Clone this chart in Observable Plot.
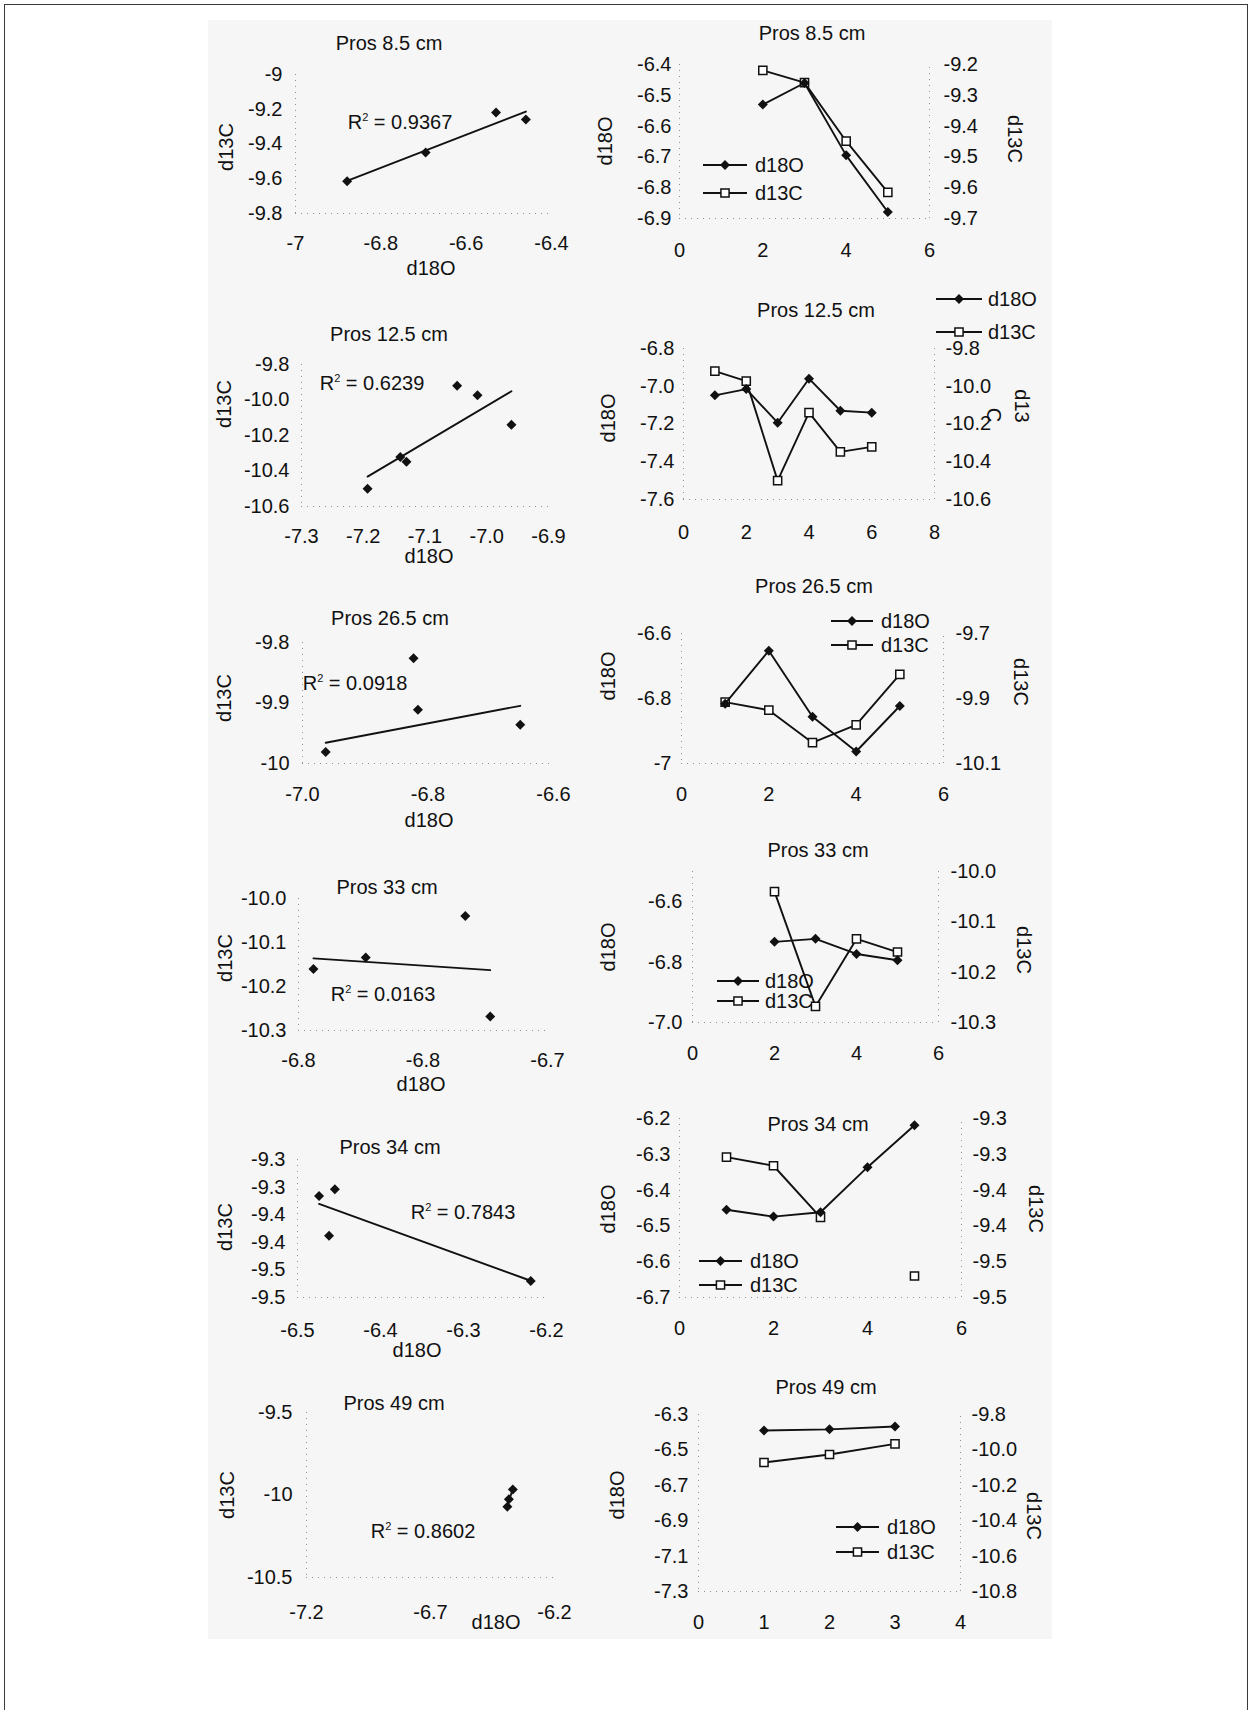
<!DOCTYPE html>
<html>
<head>
<meta charset="utf-8">
<script src="https://cdn.jsdelivr.net/npm/d3@7"></script>
<script src="https://cdn.jsdelivr.net/npm/@observablehq/plot@0.6"></script>
<style>
html, body { margin: 0; padding: 0; background: #fff; }
#page { position: relative; width: 1248px; height: 1710px; overflow: hidden;
  font-family: "Liberation Sans", Arial, Helvetica, sans-serif; color: #111; }
.frame { position: absolute; left: 4px; top: 4px; width: 1244px; height: 1720px;
  border: 1.5px solid #3a3a3a; border-bottom: none; box-sizing: border-box; }
.scan { position: absolute; left: 208px; top: 20px; width: 844px; height: 1619px; background: #f6f6f6; }
.t { position: absolute; font-size: 20px; line-height: 1; white-space: nowrap; transform: translate(-50%, -50%); }
.t.rotL { transform: translate(-50%, -50%) rotate(-90deg); }
.t.rotR { transform: translate(-50%, -50%) rotate(90deg); }
.t.left { transform: translate(0, -50%); }
.t sup { font-size: 11px; vertical-align: 0; position: relative; top: -8px; }
.panel { position: absolute; }
.panel svg { position: absolute; left: 0; top: 0; overflow: visible; max-width: none !important; }
</style>
</head>
<body>
<div id="page"><div class="frame"></div><div class="scan"></div></div>
<script>
// ---------------- DATA ----------------
const titles = ["Pros 8.5 cm", "Pros 12.5 cm", "Pros 26.5 cm", "Pros 33 cm", "Pros 34 cm", "Pros 49 cm"];
const r2Values = ["0.9367", "0.6239", "0.0918", "0.0163", "0.7843", "0.8602"];
const seriesNames = ["d18O", "d13C"];

// Pros 8.5 cm
const samples85 = [2, 3, 4, 5];
const d18O85 = [-6.530, -6.460, -6.695, -6.879];
const d13C85 = [-9.219, -9.259, -9.449, -9.615];
// Pros 12.5 cm
const samples125 = [1, 2, 3, 4, 5, 6];
const d18O125 = [-7.048, -7.015, -7.193, -6.960, -7.130, -7.140];
const d13C125 = [-9.920, -9.973, -10.500, -10.140, -10.348, -10.321];
// Pros 26.5 cm
const samples265 = [1, 2, 3, 4, 5];
const d18O265 = [-6.816, -6.653, -6.856, -6.963, -6.823];
const d13C265 = [-9.911, -9.936, -10.036, -9.981, -9.826];
// Pros 33 cm
const samples33 = [2, 3, 4, 5];
const d18O33 = [-6.733, -6.723, -6.773, -6.794];
const d13C33 = [-10.040, -10.268, -10.134, -10.160];
// Pros 34 cm
const samples34 = [1, 2, 3, 4, 5];
const d18O34 = [-6.455, -6.474, -6.462, -6.336, -6.219];
const d13C34 = [-9.304, -9.316, -9.388, null, -9.470];
// Pros 49 cm
const samples49 = [1, 2, 3];
const d18O49 = [-6.390, -6.384, -6.368];
const d13C49 = [-10.071, -10.026, -9.966];

// ---------------- TICKS (values and printed labels) ----------------
const xTicks85L = [-7, -6.8, -6.6, -6.4], xLabels85L = ["-7", "-6.8", "-6.6", "-6.4"];
const yTicks85L = [-9.8, -9.6, -9.4, -9.2, -9], yLabels85L = ["-9.8", "-9.6", "-9.4", "-9.2", "-9"];
const xTicks85R = [0, 2, 4, 6], xLabels85R = ["0", "2", "4", "6"];
const yTicks85R = [-6.9, -6.8, -6.7, -6.6, -6.5, -6.4], yLabels85R = ["-6.9", "-6.8", "-6.7", "-6.6", "-6.5", "-6.4"];
const y2Ticks85R = [-9.7, -9.6, -9.5, -9.4, -9.3, -9.2], y2Labels85R = ["-9.7", "-9.6", "-9.5", "-9.4", "-9.3", "-9.2"];

const xTicks125L = [-7.3, -7.2, -7.1, -7.0, -6.9], xLabels125L = ["-7.3", "-7.2", "-7.1", "-7.0", "-6.9"];
const yTicks125L = [-10.6, -10.4, -10.2, -10.0, -9.8], yLabels125L = ["-10.6", "-10.4", "-10.2", "-10.0", "-9.8"];
const xTicks125R = [0, 2, 4, 6, 8], xLabels125R = ["0", "2", "4", "6", "8"];
const yTicks125R = [-7.6, -7.4, -7.2, -7.0, -6.8], yLabels125R = ["-7.6", "-7.4", "-7.2", "-7.0", "-6.8"];
const y2Ticks125R = [-10.6, -10.4, -10.2, -10.0, -9.8], y2Labels125R = ["-10.6", "-10.4", "-10.2", "-10.0", "-9.8"];

const xTicks265L = [-7.0, -6.8, -6.6], xLabels265L = ["-7.0", "-6.8", "-6.6"];
const yTicks265L = [-10, -9.9, -9.8], yLabels265L = ["-10", "-9.9", "-9.8"];
const xTicks265R = [0, 2, 4, 6], xLabels265R = ["0", "2", "4", "6"];
const yTicks265R = [-7, -6.8, -6.6], yLabels265R = ["-7", "-6.8", "-6.6"];
const y2Ticks265R = [-10.1, -9.9, -9.7], y2Labels265R = ["-10.1", "-9.9", "-9.7"];

const xTicks33L = [-6.8, -6.75, -6.7], xLabels33L = ["-6.8", "-6.8", "-6.7"];
const yTicks33L = [-10.3, -10.2, -10.1, -10.0], yLabels33L = ["-10.3", "-10.2", "-10.1", "-10.0"];
const xTicks33R = [0, 2, 4, 6], xLabels33R = ["0", "2", "4", "6"];
const yTicks33R = [-7.0, -6.8, -6.6], yLabels33R = ["-7.0", "-6.8", "-6.6"];
const y2Ticks33R = [-10.3, -10.2, -10.1, -10.0], y2Labels33R = ["-10.3", "-10.2", "-10.1", "-10.0"];

const xTicks34L = [-6.5, -6.4, -6.3, -6.2], xLabels34L = ["-6.5", "-6.4", "-6.3", "-6.2"];
const yTicks34L = [-9.5, -9.45, -9.4, -9.35, -9.3, -9.25], yLabels34L = ["-9.5", "-9.5", "-9.4", "-9.4", "-9.3", "-9.3"];
const xTicks34R = [0, 2, 4, 6], xLabels34R = ["0", "2", "4", "6"];
const yTicks34R = [-6.7, -6.6, -6.5, -6.4, -6.3, -6.2], yLabels34R = ["-6.7", "-6.6", "-6.5", "-6.4", "-6.3", "-6.2"];
const y2Ticks34R = [-9.5, -9.45, -9.4, -9.35, -9.3, -9.25], y2Labels34R = ["-9.5", "-9.5", "-9.4", "-9.4", "-9.3", "-9.3"];

const xTicks49L = [-7.2, -6.7, -6.2], xLabels49L = ["-7.2", "-6.7", "-6.2"];
const yTicks49L = [-10.5, -10, -9.5], yLabels49L = ["-10.5", "-10", "-9.5"];
const xTicks49R = [0, 1, 2, 3, 4], xLabels49R = ["0", "1", "2", "3", "4"];
const yTicks49R = [-7.3, -7.1, -6.9, -6.7, -6.5, -6.3], yLabels49R = ["-7.3", "-7.1", "-6.9", "-6.7", "-6.5", "-6.3"];
const y2Ticks49R = [-10.8, -10.6, -10.4, -10.2, -10.0, -9.8], y2Labels49R = ["-10.8", "-10.6", "-10.4", "-10.2", "-10.0", "-9.8"];

// ---------------- RENDERING ----------------
const FONT = '"Liberation Sans", Arial, Helvetica, sans-serif';
const INK = "#111";
const GRID = "#8f8f8f";
const LW = 1.9;
const page = document.getElementById("page");

function fmt(ticks, labels) {
  const m = new Map(ticks.map((t, i) => [t, labels[i]]));
  return d => (m.has(d) ? m.get(d) : "");
}
function dom(ticks) { return [ticks[0], ticks[ticks.length - 1]]; }

function addText(content, x, y, cls = "", html = false) {
  const d = document.createElement("div");
  d.className = "t " + cls;
  if (html) d.innerHTML = content; else d.textContent = content;
  d.style.left = x + "px";
  d.style.top = y + "px";
  page.appendChild(d);
  return d;
}

function place(svgs, left, top, w, h) {
  const wrap = document.createElement("div");
  wrap.className = "panel";
  wrap.style.left = left + "px";
  wrap.style.top = top + "px";
  wrap.style.width = w + "px";
  wrap.style.height = h + "px";
  for (const s of svgs) {
    s.style.maxWidth = "none";
    s.style.width = w + "px";
    s.style.height = h + "px";
    wrap.appendChild(s);
  }
  page.appendChild(wrap);
}

const baseStyle = { background: "transparent", fontFamily: FONT, fontSize: "20px", color: INK, overflow: "visible" };
const M = { ml: 80, mr: 80, mt: 10, mb: 50 };

function scatterPanel(c) {
  const { L, R, T, B } = c.frame;
  const rows = c.samples.map((s, i) => ({ x: c.d18O[i], y: c.d13C[i] }))
    .filter(d => d.x != null && d.y != null);
  const xDomain = c.xDomain || dom(c.xTicks);
  const yDomain = c.yDomain || dom(c.yTicks);
  const W = R - L + M.ml + M.mr, H = B - T + M.mt + M.mb;
  const p = Plot.plot({
    width: W, height: H,
    marginLeft: M.ml, marginRight: M.mr, marginTop: M.mt, marginBottom: M.mb,
    style: baseStyle,
    x: { domain: xDomain, ticks: c.xTicks, tickFormat: fmt(c.xTicks, c.xLabels), tickSize: 0, tickPadding: c.xPad, label: null },
    y: { domain: yDomain, ticks: c.yTicks, tickFormat: fmt(c.yTicks, c.yLabels), tickSize: 0, tickPadding: c.yPad, label: null },
    marks: [
      Plot.ruleX([xDomain[0]], { stroke: GRID, strokeDasharray: "1 5" }),
      Plot.ruleY([yDomain[0]], { stroke: GRID, strokeDasharray: "1 5" }),
      Plot.linearRegressionY(rows, { x: "x", y: "y", ci: 0, stroke: INK, strokeWidth: LW }),
      Plot.dot(rows, { x: "x", y: "y", symbol: "diamond2", r: 4.5, fill: INK, stroke: "none", clip: true })
    ]
  });
  place([p], L - M.ml, T - M.mt, W, H);
  addText(c.title, c.titlePos[0], c.titlePos[1]);
  addText("d18O", c.xLabelPos[0], c.xLabelPos[1]);
  addText("d13C", c.yLabelPos[0], c.yLabelPos[1], "rotL");
  addText("R<sup>2</sup> = " + c.r2, c.r2Pos[0], c.r2Pos[1], "", true);
}

function legendRow(kind, x0, y, len, tx, label) {
  const svg = d3.create("svg").attr("width", len).attr("height", 16)
    .style("position", "absolute").style("left", x0 + "px").style("top", (y - 8) + "px").style("overflow", "visible");
  svg.append("line").attr("x1", 0).attr("x2", len).attr("y1", 8).attr("y2", 8)
    .attr("stroke", INK).attr("stroke-width", LW);
  const r = kind === "o" ? 4.5 : 4.6;
  const sym = d3.symbol(kind === "o" ? d3.symbolDiamond2 : d3.symbolSquare, r * r * Math.PI)();
  svg.append("path").attr("d", sym).attr("transform", `translate(${len / 2},8)`)
    .attr("fill", kind === "o" ? INK : "#fff").attr("stroke", kind === "o" ? "none" : INK).attr("stroke-width", 1.5);
  page.appendChild(svg.node());
  addText(label, tx, y, "left");
}

function dualPanel(c) {
  const { L, R, T, B } = c.frame;
  const xDomain = dom(c.xTicks);
  const yDomain = c.yDomain || dom(c.yTicks);
  const y2Domain = c.y2Domain || dom(c.y2Ticks);
  const toLeft = d3.scaleLinear(y2Domain, yDomain);
  const rows = c.samples.map((s, i) => ({
    s,
    o: c.d18O[i],
    c: c.d13C[i] == null ? NaN : toLeft(c.d13C[i])
  }));
  const W = R - L + M.ml + M.mr, H = B - T + M.mt + M.mb;
  const main = Plot.plot({
    width: W, height: H,
    marginLeft: M.ml, marginRight: M.mr, marginTop: M.mt, marginBottom: M.mb,
    style: baseStyle,
    x: { domain: xDomain, ticks: c.xTicks, tickFormat: fmt(c.xTicks, c.xLabels), tickSize: 0, tickPadding: c.xPad, label: null },
    y: { domain: yDomain, ticks: c.yTicks, tickFormat: fmt(c.yTicks, c.yLabels), tickSize: 0, tickPadding: c.yPad, label: null },
    marks: [
      Plot.ruleX([xDomain[0]], { stroke: GRID, strokeDasharray: "1 5" }),
      Plot.ruleY([yDomain[0]], { stroke: GRID, strokeDasharray: "1 5" }),
      Plot.line(rows, { x: "s", y: "c", stroke: INK, strokeWidth: LW }),
      Plot.dot(rows.filter(d => !isNaN(d.c)), { x: "s", y: "c", symbol: "square", r: 4.6, fill: "#fff", stroke: INK, strokeWidth: 1.5 }),
      Plot.line(rows, { x: "s", y: "o", stroke: INK, strokeWidth: LW }),
      Plot.dot(rows, { x: "s", y: "o", symbol: "diamond2", r: 4.5, fill: INK, stroke: "none" })
    ]
  });
  const right = Plot.plot({
    width: W, height: H,
    marginLeft: M.ml, marginRight: M.mr, marginTop: M.mt, marginBottom: M.mb,
    style: baseStyle,
    x: { domain: xDomain, axis: null },
    y: { domain: y2Domain, axis: "right", ticks: c.y2Ticks, tickFormat: fmt(c.y2Ticks, c.y2Labels), tickSize: 0, tickPadding: c.y2Pad, label: null },
    marks: [
      Plot.ruleX([xDomain[1]], { y1: y2Domain[0], y2: y2Domain[1], stroke: GRID, strokeDasharray: "1 5" })
    ]
  });
  place([main, right], L - M.ml, T - M.mt, W, H);
  addText(c.title, c.titlePos[0], c.titlePos[1]);
  addText("d18O", c.yLabelPos[0], c.yLabelPos[1], "rotL");
  if (c.y2LabelParts) {
    for (const [txt, x, y] of c.y2LabelParts) addText(txt, x, y, "rotR");
  } else {
    addText("d13C", c.y2LabelPos[0], c.y2LabelPos[1], "rotR");
  }
  const g = c.legend;
  legendRow("o", g.x, g.y, g.len, g.tx, seriesNames[0]);
  legendRow("c", g.x, g.y + g.dy, g.len, g.tx, seriesNames[1]);
}

// ---------- Row 1: Pros 8.5 cm ----------
scatterPanel({
  samples: samples85, d18O: d18O85, d13C: d13C85, r2: r2Values[0], title: titles[0],
  frame: { L: 295, R: 551, T: 74, B: 213 },
  xTicks: xTicks85L, xLabels: xLabels85L, yTicks: yTicks85L, yLabels: yLabels85L, xPad: 22, yPad: 13,
  titlePos: [389, 43], xLabelPos: [431, 268], yLabelPos: [226, 147], r2Pos: [400, 122]
});
dualPanel({
  samples: samples85, d18O: d18O85, d13C: d13C85, title: titles[0],
  frame: { L: 679, R: 929, T: 64, B: 218 },
  xTicks: xTicks85R, xLabels: xLabels85R, yTicks: yTicks85R, yLabels: yLabels85R,
  y2Ticks: y2Ticks85R, y2Labels: y2Labels85R, xPad: 24, yPad: 8, y2Pad: 14,
  titlePos: [812, 33], yLabelPos: [605, 141], y2LabelPos: [1015, 139],
  legend: { x: 703, y: 165, dy: 28, len: 44, tx: 755 }
});

// ---------- Row 2: Pros 12.5 cm ----------
scatterPanel({
  samples: samples125, d18O: d18O125, d13C: d13C125, r2: r2Values[1], title: titles[1],
  frame: { L: 301, R: 548, T: 364, B: 506 },
  xTicks: xTicks125L, xLabels: xLabels125L, yTicks: yTicks125L, yLabels: yLabels125L, xPad: 22, yPad: 12,
  titlePos: [389, 334], xLabelPos: [429, 556], yLabelPos: [224, 404], r2Pos: [372, 383]
});
dualPanel({
  samples: samples125, d18O: d18O125, d13C: d13C125, title: titles[1],
  frame: { L: 683, R: 934, T: 348, B: 499 },
  xTicks: xTicks125R, xLabels: xLabels125R, yTicks: yTicks125R, yLabels: yLabels125R,
  y2Ticks: y2Ticks125R, y2Labels: y2Labels125R, xPad: 25, yPad: 9, y2Pad: 11,
  titlePos: [816, 310], yLabelPos: [608, 418],
  y2LabelParts: [["d13", 1022, 406], ["C", 994, 415]],
  legend: { x: 936, y: 299, dy: 33, len: 46, tx: 988 }
});

// ---------- Row 3: Pros 26.5 cm ----------
scatterPanel({
  samples: samples265, d18O: d18O265, d13C: d13C265, r2: r2Values[2], title: titles[2],
  frame: { L: 302, R: 553, T: 642, B: 763 },
  xTicks: xTicks265L, xLabels: xLabels265L, yTicks: yTicks265L, yLabels: yLabels265L, xPad: 23, yPad: 13,
  titlePos: [390, 618], xLabelPos: [429, 820], yLabelPos: [224, 698], r2Pos: [355, 683]
});
dualPanel({
  samples: samples265, d18O: d18O265, d13C: d13C265, title: titles[2],
  frame: { L: 681, R: 943, T: 633, B: 763 },
  xTicks: xTicks265R, xLabels: xLabels265R, yTicks: yTicks265R, yLabels: yLabels265R,
  y2Ticks: y2Ticks265R, y2Labels: y2Labels265R, xPad: 23, yPad: 10, y2Pad: 12,
  titlePos: [814, 586], yLabelPos: [608, 676], y2LabelPos: [1021, 682],
  legend: { x: 831, y: 621, dy: 24, len: 42, tx: 881 }
});

// ---------- Row 4: Pros 33 cm ----------
scatterPanel({
  samples: samples33, d18O: d18O33, d13C: d13C33, r2: r2Values[3], title: titles[3],
  frame: { L: 298, R: 547, T: 898, B: 1030 },
  xTicks: xTicks33L, xLabels: xLabels33L, yTicks: yTicks33L, yLabels: yLabels33L, xPad: 22, yPad: 12,
  titlePos: [387, 887], xLabelPos: [421, 1084], yLabelPos: [225, 958], r2Pos: [383, 994]
});
dualPanel({
  samples: samples33, d18O: d18O33, d13C: d13C33, title: titles[3],
  frame: { L: 692, R: 938, T: 871, B: 1022 },
  xTicks: xTicks33R, xLabels: xLabels33R, yTicks: yTicks33R, yLabels: yLabels33R, yDomain: [-7.0, -6.5],
  y2Ticks: y2Ticks33R, y2Labels: y2Labels33R, xPad: 23, yPad: 10, y2Pad: 12,
  titlePos: [818, 850], yLabelPos: [608, 947], y2LabelPos: [1024, 950],
  legend: { x: 717, y: 981, dy: 20, len: 42, tx: 765 }
});

// ---------- Row 5: Pros 34 cm ----------
scatterPanel({
  samples: samples34, d18O: d18O34, d13C: d13C34, r2: r2Values[4], title: titles[4],
  frame: { L: 297, R: 546, T: 1159, B: 1297 },
  xTicks: xTicks34L, xLabels: xLabels34L, yTicks: yTicks34L, yLabels: yLabels34L, xPad: 25, yPad: 12,
  titlePos: [390, 1147], xLabelPos: [417, 1350], yLabelPos: [225, 1227], r2Pos: [463, 1212]
});
dualPanel({
  samples: samples34, d18O: d18O34, d13C: d13C34, title: titles[4],
  frame: { L: 679, R: 961, T: 1118, B: 1297 },
  xTicks: xTicks34R, xLabels: xLabels34R, yTicks: yTicks34R, yLabels: yLabels34R,
  y2Ticks: y2Ticks34R, y2Labels: y2Labels34R, xPad: 23, yPad: 9, y2Pad: 11,
  titlePos: [818, 1124], yLabelPos: [608, 1209], y2LabelPos: [1036, 1209],
  legend: { x: 699, y: 1261, dy: 24, len: 43, tx: 750 }
});

// ---------- Row 6: Pros 49 cm ----------
scatterPanel({
  samples: samples49, d18O: d18O49, d13C: d13C49, r2: r2Values[5], title: titles[5],
  frame: { L: 306, R: 554, T: 1412, B: 1577 },
  xTicks: xTicks49L, xLabels: xLabels49L, yTicks: yTicks49L, yLabels: yLabels49L, xPad: 27, yPad: 14,
  titlePos: [394, 1403], xLabelPos: [496, 1622], yLabelPos: [227, 1495], r2Pos: [423, 1531]
});
dualPanel({
  samples: samples49, d18O: d18O49, d13C: d13C49, title: titles[5],
  frame: { L: 698, R: 960, T: 1414, B: 1591 },
  xTicks: xTicks49R, xLabels: xLabels49R, yTicks: yTicks49R, yLabels: yLabels49R,
  y2Ticks: y2Ticks49R, y2Labels: y2Labels49R, xPad: 23, yPad: 10, y2Pad: 11,
  titlePos: [826, 1387], yLabelPos: [617, 1495], y2LabelPos: [1034, 1516],
  legend: { x: 836, y: 1527, dy: 25, len: 43, tx: 887 }
});
</script>
</body>
</html>
